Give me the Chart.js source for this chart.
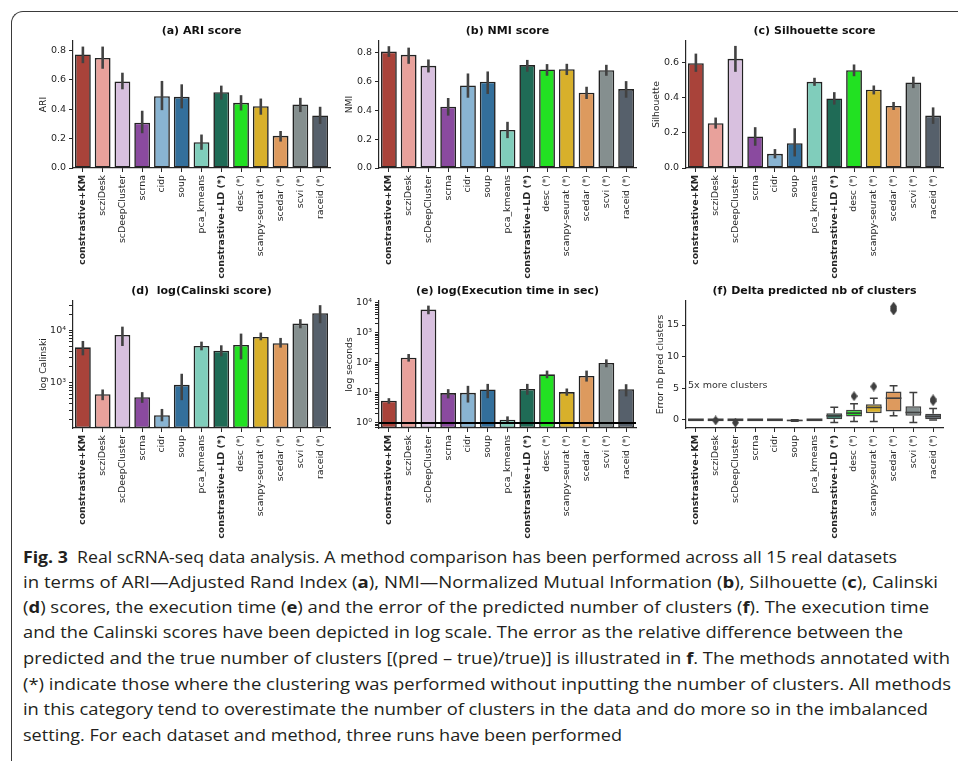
<!DOCTYPE html>
<html>
<head>
<meta charset="utf-8">
<script src="https://cdn.jsdelivr.net/npm/chart.js@4.4.1/dist/chart.umd.min.js"></script>
<style>
body{margin:0;background:#fff;width:958px;height:761px;overflow:hidden;position:relative;}
canvas{position:absolute;}
#frame{position:absolute;left:11px;top:11px;width:980px;height:760px;border-left:1.5px solid #3a3a3a;border-top:1.5px solid #3a3a3a;border-top-left-radius:12px;border-bottom-left-radius:12px;}
.cap{position:absolute;left:23px;white-space:nowrap;font-family:"Open Sans";font-size:16px;line-height:20px;color:#231f20;transform-origin:0 50%;}
.cap b{font-weight:bold;}
</style>
</head>
<body>
<div id="frame"></div>
<div class="cap" style="top:547px" data-w="874"><b>Fig. 3</b>&nbsp; Real scRNA-seq data analysis. A method comparison has been performed across all 15 real datasets</div>
<div class="cap" style="top:572px" data-w="915">in terms of ARI—Adjusted Rand Index (<b>a</b>), NMI—Normalized Mutual Information (<b>b</b>), Silhouette (<b>c</b>), Calinski</div>
<div class="cap" style="top:597px" data-w="906">(<b>d</b>) scores, the execution time (<b>e</b>) and the error of the predicted number of clusters (<b>f</b>). The execution time</div>
<div class="cap" style="top:622px" data-w="880">and the Calinski scores have been depicted in log scale. The error as the relative difference between the</div>
<div class="cap" style="top:648px" data-w="927">predicted and the true number of clusters [(pred – true)/true)] is illustrated in <b>f</b>. The methods annotated with</div>
<div class="cap" style="top:674px" data-w="928">(*) indicate those where the clustering was performed without inputting the number of clusters. All methods</div>
<div class="cap" style="top:699px" data-w="905">in this category tend to overestimate the number of clusters in the data and do more so in the imbalanced</div>
<div class="cap" style="top:725px" data-w="599">setting. For each dataset and method, three runs have been performed</div>
<script>
var methods = ['constrastive+KM','scziDesk','scDeepCluster','scrna','cidr','soup','pca_kmeans',
               'constrastive+LD (*)','desc (*)','scanpy-seurat (*)','scedar (*)','scvi (*)','raceid (*)'];
var boldMethods = ['constrastive+KM','constrastive+LD (*)'];
var colors = ['#a9433a','#e8a19b','#d8c0df','#8a4a9f','#89b4d2','#336f9b','#80cdbb',
              '#1f6b56','#22e122','#d8b02b','#dd9a5e','#858f8f','#56606b'];

// (a) ARI
var ariMean = [0.773,0.750,0.590,0.309,0.489,0.485,0.176,0.516,0.444,0.421,0.219,0.433,0.358];
var ariLo   = [0.714,0.676,0.536,0.237,0.394,0.406,0.124,0.466,0.392,0.363,0.180,0.381,0.300];
var ariHi   = [0.827,0.827,0.649,0.390,0.593,0.570,0.228,0.561,0.496,0.473,0.252,0.478,0.417];
// (b) NMI
var nmiMean = [0.807,0.784,0.708,0.425,0.572,0.598,0.264,0.713,0.683,0.685,0.522,0.678,0.547];
var nmiLo   = [0.770,0.722,0.662,0.363,0.487,0.513,0.207,0.667,0.639,0.644,0.478,0.639,0.487];
var nmiHi   = [0.844,0.834,0.752,0.485,0.655,0.669,0.320,0.749,0.720,0.722,0.563,0.715,0.602];
// (c) Silhouette
var silMean = [0.598,0.256,0.623,0.180,0.081,0.142,0.492,0.397,0.558,0.447,0.354,0.488,0.299];
var silLo   = [0.549,0.225,0.549,0.127,0.055,0.066,0.469,0.362,0.524,0.420,0.331,0.456,0.252];
var silHi   = [0.653,0.288,0.697,0.233,0.108,0.227,0.515,0.433,0.591,0.471,0.377,0.521,0.346];
// (d) Calinski
var calMean = [4730,607,8150,532,241,916,5020,4090,5250,7460,5650,13400,21100];
var calLo   = [3330,467,5010,415,185,467,4150,3190,2790,6440,4670,10900,13600];
var calHi   = [6250,746,11700,664,318,1486,6070,5170,8630,9020,7140,16230,30000];
// (e) execution time (sec)
var timeMean = [5.5,150,6010,9.9,10.1,13.1,1.29,13.7,42,10.7,37,100,13.4];
var timeLo   = [4.4,111,4210,6.6,4.8,6.7,1.05,8.7,31,8.1,24,72,7.7];
var timeHi   = [6.7,199,8170,13.4,17.3,20.1,1.66,20.1,55.7,14.1,55.7,132,19.6];
// (f) error of predicted nb of clusters (box plot)
var errQ1     = [0,0,0,0,0,-0.22,0,0.10,0.53,1.05,1.31,0.63,0.10];
var errQ3     = [0,0,0,0,0,0,0,1.05,1.58,2.47,4.47,2.16,0.95];
var errMed    = [0,0,0,0,0,-0.10,0,0.63,1.05,1.95,3.42,1.16,0.53];
var errWhisLo = [0,0,0,0,0,-0.22,0,-0.42,-0.26,-0.26,0.63,-0.42,-0.05];
var errWhisHi = [0,0,0,0,0,0,0,2.00,2.53,3.42,5.37,4.30,1.79];
var errOutliers = [[],[-0.1],[-0.45],[],[],[],[],[],[3.74],[5.26],[17.3,17.6,17.9],[],[2.95,3.25]];

// ticks
var scoreTicks = [0,0.2,0.4,0.6,0.8];
var silTicks = [0,0.2,0.4,0.6];
var errTicks = [0,5,10,15];
var calMajor = [1000,10000];
var timeMajor = [1,10,100,1000,10000];

var colLeft = [73, 379, 686];
var rowTop = [41, 301];
var plotW = 257, plotH = 127;
var padL = 60, padT = 30, padR = 14, padB = 112;
var axisColor = '#262626';
var FONT = 'DejaVu Sans';

function minors(lo, hi) {
  var out = [];
  for (var e = -1; e <= 5; e++) {
    for (var k = 1; k <= 9; k++) {
      var v = k * Math.pow(10, e);
      v = parseFloat(v.toPrecision(3));
      if (v >= lo && v <= hi) out.push(v);
    }
  }
  return out;
}
var supDigits = {'0':'\u2070','1':'\u00b9','2':'\u00b2','3':'\u00b3','4':'\u2074'};

function errorBarPlugin(lo, hi) {
  return {
    id: 'errorBars',
    afterDatasetsDraw: function (chart) {
      var ctx = chart.ctx, x = chart.scales.x, y = chart.scales.y;
      ctx.save();
      ctx.strokeStyle = '#424242';
      ctx.lineWidth = 2.6;
      for (var i = 0; i < lo.length; i++) {
        var px = x.getPixelForValue(i);
        ctx.beginPath();
        ctx.moveTo(px, y.getPixelForValue(lo[i]));
        ctx.lineTo(px, y.getPixelForValue(hi[i]));
        ctx.stroke();
      }
      ctx.restore();
    }
  };
}

function boxPartsPlugin() {
  return {
    id: 'boxParts',
    afterDatasetsDraw: function (chart) {
      var ctx = chart.ctx, x = chart.scales.x, y = chart.scales.y;
      var meta = chart.getDatasetMeta(0);
      ctx.save();
      ctx.strokeStyle = '#3f3f3f';
      for (var i = 0; i < errMed.length; i++) {
        var cx = x.getPixelForValue(i);
        var half = meta.data[i].width / 2;
        ctx.lineWidth = 1.5;
        ctx.beginPath();
        ctx.moveTo(cx, y.getPixelForValue(errQ3[i]));
        ctx.lineTo(cx, y.getPixelForValue(errWhisHi[i]));
        ctx.moveTo(cx, y.getPixelForValue(errQ1[i]));
        ctx.lineTo(cx, y.getPixelForValue(errWhisLo[i]));
        ctx.moveTo(cx - half / 2, y.getPixelForValue(errWhisHi[i]));
        ctx.lineTo(cx + half / 2, y.getPixelForValue(errWhisHi[i]));
        ctx.moveTo(cx - half / 2, y.getPixelForValue(errWhisLo[i]));
        ctx.lineTo(cx + half / 2, y.getPixelForValue(errWhisLo[i]));
        ctx.stroke();
        ctx.lineWidth = errQ1[i] === errQ3[i] ? 2.6 : 1.6;
        ctx.beginPath();
        ctx.moveTo(cx - half, y.getPixelForValue(errMed[i]));
        ctx.lineTo(cx + half, y.getPixelForValue(errMed[i]));
        ctx.stroke();
      }
      ctx.restore();
    }
  };
}

function refLinePlugin(value) {
  return {
    id: 'refLine',
    afterDatasetsDraw: function (chart) {
      var ctx = chart.ctx, a = chart.chartArea, py = chart.scales.y.getPixelForValue(value);
      ctx.save();
      ctx.strokeStyle = '#000';
      ctx.lineWidth = 2;
      ctx.beginPath();
      ctx.moveTo(a.left, py);
      ctx.lineTo(a.right, py);
      ctx.stroke();
      ctx.restore();
    }
  };
}

function panelTextPlugin(title, note) {
  return {
    id: 'panelText',
    afterDraw: function (chart) {
      var ctx = chart.ctx, a = chart.chartArea;
      ctx.save();
      ctx.font = 'bold 11px "' + FONT + '"';
      ctx.fillStyle = '#111';
      ctx.textAlign = 'center';
      ctx.textBaseline = 'middle';
      ctx.fillText(title, (a.left + a.right) / 2, a.top - 9.5);
      if (note) {
        ctx.font = '9.5px "' + FONT + '"';
        ctx.fillStyle = '#333';
        ctx.textAlign = 'left';
        ctx.fillText(note.text, a.left + 2, chart.scales.y.getPixelForValue(note.y));
      }
      ctx.restore();
    }
  };
}

function diamondImage() {
  var c = document.createElement('canvas');
  c.width = 7; c.height = 10;
  var g = c.getContext('2d');
  g.fillStyle = '#3f3f3f';
  g.beginPath();
  g.moveTo(3.5, 0); g.lineTo(7, 5); g.lineTo(3.5, 10); g.lineTo(0, 5);
  g.closePath();
  g.fill();
  return c;
}

function makePanel(idx, def) {
  var L = colLeft[idx % 3], T = rowTop[Math.floor(idx / 3)];
  var c = document.createElement('canvas');
  c.width = padL + plotW + padR;
  c.height = padT + plotH + padB;
  c.style.left = (L - padL) + 'px';
  c.style.top = (T - padT) + 'px';
  document.body.appendChild(c);

  var yScale = {
    type: def.log ? 'logarithmic' : 'linear',
    min: def.yMin, max: def.yMax,
    grid: {display: true, drawOnChartArea: false, drawTicks: true, tickLength: 4, color: axisColor},
    border: {display: true, color: axisColor, width: 1.2},
    ticks: {autoSkip: false, padding: 3, color: axisColor, font: {family: FONT, size: 9.5}, callback: def.fmt},
    title: {display: true, text: def.yLabel, color: axisColor, font: {family: FONT, size: 9.2},
            padding: {top: def.yTitlePad, bottom: 0}},
    afterBuildTicks: function (s) { s.ticks = def.ticks.map(function (v) { return {value: v}; }); },
    afterFit: function (s) { s.width = padL; }
  };
  var xScale = {
    offset: true,
    grid: {display: true, offset: false, drawOnChartArea: false, drawTicks: true, tickLength: 4, color: axisColor},
    border: {display: true, color: axisColor, width: 1.2},
    ticks: {autoSkip: false, maxRotation: 90, minRotation: 90, padding: 3, color: axisColor,
            font: function (ctx) {
              return {family: FONT, size: 9.4, weight: boldMethods.indexOf(methods[ctx.index]) >= 0 ? 'bold' : 'normal'};
            }},
    afterFit: function (s) { s.height = padB; }
  };

  var datasets, plugins = [panelTextPlugin(def.title, def.note)];
  if (def.box) {
    var pts = [];
    errOutliers.forEach(function (list, i) {
      list.forEach(function (v) { pts.push({x: methods[i], y: v}); });
    });
    datasets = [
      {type: 'bar', data: errQ1.map(function (q, i) { return [q, errQ3[i]]; }),
       backgroundColor: colors, borderColor: '#3f3f3f', borderWidth: 1.5, borderSkipped: false,
       barPercentage: 0.8, categoryPercentage: 1},
      {type: 'scatter', data: pts, pointStyle: diamondImage(), pointRadius: 4}
    ];
    plugins.push(boxPartsPlugin());
  } else {
    datasets = [
      {type: 'bar', data: def.mean, backgroundColor: colors, borderColor: '#222', borderWidth: 1.6,
       borderSkipped: false, barPercentage: 0.8, categoryPercentage: 1}
    ];
    plugins.push(errorBarPlugin(def.lo, def.hi));
    if (def.refLine) plugins.push(refLinePlugin(def.refLine));
  }

  new Chart(c, {
    type: 'bar',
    data: {labels: methods, datasets: datasets},
    options: {
      responsive: false,
      animation: false,
      layout: {padding: {top: padT, right: padR, left: 0, bottom: 0}},
      plugins: {legend: {display: false}, tooltip: {enabled: false}, title: {display: false}},
      scales: {x: xScale, y: yScale}
    },
    plugins: plugins
  });
}

var fmt1 = function (v) { return v.toFixed(1); };
var logFmt = function (majors) {
  return function (v) {
    if (majors.indexOf(v) < 0) return '';
    return '10' + supDigits[String(Math.round(Math.log10(v)))];
  };
};

var panelDefs = [
  {title: '(a) ARI score', yLabel: 'ARI', mean: ariMean, lo: ariLo, hi: ariHi,
   yMin: 0, yMax: 0.865, ticks: scoreTicks, fmt: fmt1, yTitlePad: 24.6},
  {title: '(b) NMI score', yLabel: 'NMI', mean: nmiMean, lo: nmiLo, hi: nmiHi,
   yMin: 0, yMax: 0.88, ticks: scoreTicks, fmt: fmt1, yTitlePad: 24.6},
  {title: '(c) Silhouette score', yLabel: 'Silhouette', mean: silMean, lo: silLo, hi: silHi,
   yMin: 0, yMax: 0.725, ticks: silTicks, fmt: fmt1, yTitlePad: 24.6},
  {title: '(d)  log(Calinski score)', yLabel: 'log Calinski', mean: calMean, lo: calLo, hi: calHi, log: true,
   yMin: 138, yMax: 36000, ticks: minors(138, 36000), fmt: logFmt(calMajor), yTitlePad: 24.6},
  {title: '(e) log(Execution time in sec)', yLabel: 'log seconds', mean: timeMean, lo: timeLo, hi: timeHi, log: true,
   yMin: 0.68, yMax: 11650, ticks: minors(0.68, 11650), fmt: logFmt(timeMajor), yTitlePad: 24.6, refLine: 1},
  {title: '(f) Delta predicted nb of clusters', yLabel: 'Error nb pred clusters', box: true,
   yMin: -1.3, yMax: 18.8, ticks: errTicks, fmt: function (v) { return String(v); }, yTitlePad: 28.6,
   note: {text: '5x more clusters', y: 5.4}}
];

panelDefs.forEach(function (d, i) { makePanel(i, d); });

// fit each caption line to its width in the reference
document.querySelectorAll('.cap').forEach(function (el) {
  var w = el.getBoundingClientRect().width;
  el.style.transform = 'scaleX(' + (parseFloat(el.dataset.w) / w) + ')';
});
</script>
</body>
</html>
